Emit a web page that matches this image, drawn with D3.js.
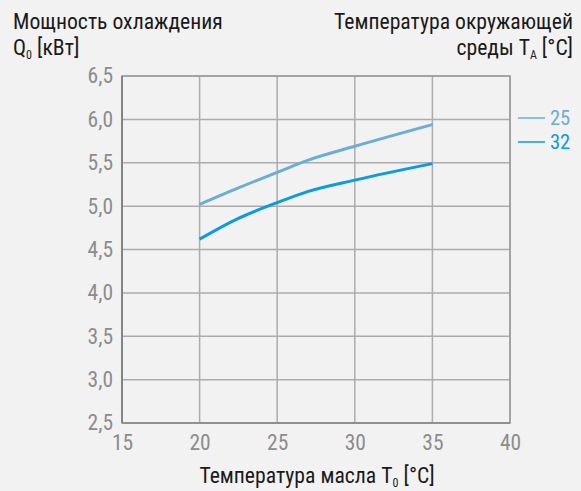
<!DOCTYPE html>
<html><head><meta charset="utf-8">
<script src="https://cdn.jsdelivr.net/npm/d3@7"></script>
<style>
html,body{margin:0;padding:0;background:#f2f2f2;}
svg{display:block;}
text{font-family:"Roboto Condensed","Liberation Sans Narrow","DejaVu Sans Condensed",sans-serif;}
</style></head>
<body>
<svg id="chart" width="581" height="491"></svg>
<script>
const seriesNames = ["25", "32"];
const seriesColors = ["#6aaed3", "#0a9be0"];
const temps25 = [20, 22.5, 25, 27, 30, 35];
const values25 = [5.02, 5.21, 5.39, 5.53, 5.69, 5.94];
const temps32 = [20, 22.5, 25, 27, 30, 35];
const values32 = [4.62, 4.86, 5.04, 5.17, 5.30, 5.49];
const xTicks = [15, 20, 25, 30, 35, 40];
const yTicks = [2.5, 3.0, 3.5, 4.0, 4.5, 5.0, 5.5, 6.0, 6.5];

const FONT = '"Roboto Condensed","Liberation Sans Narrow","DejaVu Sans Condensed",sans-serif';
const svg = d3.select("#chart");
const x = d3.scaleLinear().domain([15, 40]).range([122, 510]);
const y = d3.scaleLinear().domain([2.5, 6.5]).range([423, 76]);

// grid
const g = svg.append("g");
g.selectAll(".vg").data(xTicks).enter().append("line")
  .attr("x1", d => x(d)).attr("x2", d => x(d)).attr("y1", y(6.5)).attr("y2", y(2.5))
  .attr("stroke", "#acacac").attr("stroke-width", 1.5);
g.selectAll(".hg").data(yTicks).enter().append("line")
  .attr("x1", x(15)).attr("x2", x(40)).attr("y1", d => y(d)).attr("y2", d => y(d))
  .attr("stroke", "#acacac").attr("stroke-width", 1.5);
g.append("rect").attr("x", x(15)).attr("y", y(6.5)).attr("width", x(40) - x(15)).attr("height", y(2.5) - y(6.5))
  .attr("fill", "none").attr("stroke", "#9a9a9a").attr("stroke-width", 1.5);
g.append("line").attr("x1", x(15)).attr("x2", x(15)).attr("y1", y(6.5)).attr("y2", y(2.5))
  .attr("stroke", "#7a7a7a").attr("stroke-width", 1.5);
g.append("line").attr("x1", x(15)).attr("x2", x(40)).attr("y1", y(2.5)).attr("y2", y(2.5))
  .attr("stroke", "#8a8a8a").attr("stroke-width", 1.5);

// axes labels via d3 axes
const fmt = d => d3.format(".1f")(d).replace(".", ",");
const yAxis = svg.append("g").attr("transform", `translate(${x(15)},0)`)
  .call(d3.axisLeft(y).tickValues(yTicks).tickFormat(fmt).tickSize(0).tickPadding(9));
yAxis.select(".domain").remove();
yAxis.selectAll("text").attr("font-size", 21.5).attr("fill", "#8c8c8c").attr("font-family", FONT);
const xAxis = svg.append("g").attr("transform", `translate(0,${y(2.5)})`)
  .call(d3.axisBottom(x).tickValues(xTicks).tickFormat(d3.format("d")).tickSize(0).tickPadding(12));
xAxis.select(".domain").remove();
xAxis.selectAll("text").attr("font-size", 21.5).attr("fill", "#8c8c8c").attr("font-family", FONT);

// lines
const line = d3.line().x(d => x(d[0])).y(d => y(d[1])).curve(d3.curveMonotoneX);
const data = [d3.zip(temps25, values25), d3.zip(temps32, values32)];
svg.selectAll(".series").data(data).enter().append("path")
  .attr("d", line).attr("fill", "none")
  .attr("stroke", (d, i) => seriesColors[i]).attr("stroke-width", 3);

// legend
seriesNames.forEach((n, i) => {
  const ly = 118 + i * 24;
  svg.append("line").attr("x1", 518).attr("x2", 545).attr("y1", ly).attr("y2", ly)
    .attr("stroke", seriesColors[i]).attr("stroke-width", 1.5);
  svg.append("text").attr("x", 550).attr("y", ly + 7).attr("font-size", 20.5)
    .attr("fill", seriesColors[i]).text(n);
});

// titles
const TS = 21.7;
const tl = svg.append("text").attr("x", 13).attr("y", 29).attr("font-size", TS).attr("fill", "#1a1a1a");
tl.text("Мощность охлаждения");
const tl2 = svg.append("text").attr("x", 13).attr("y", 55).attr("font-size", TS).attr("fill", "#1a1a1a");
tl2.append("tspan").text("Q");
tl2.append("tspan").attr("font-size", 12).attr("dy", 4).text("0");
tl2.append("tspan").attr("dy", -4).text(" [кВт]");

const tr = svg.append("text").attr("x", 573).attr("y", 29).attr("font-size", TS).attr("fill", "#1a1a1a").attr("text-anchor", "end");
tr.text("Температура окружающей");
const tr2 = svg.append("text").attr("x", 573).attr("y", 55).attr("font-size", TS).attr("fill", "#1a1a1a").attr("text-anchor", "end");
tr2.append("tspan").text("среды T");
tr2.append("tspan").attr("font-size", 12).attr("dy", 4).text("A");
tr2.append("tspan").attr("dy", -4).text(" [°C]");

const xt = svg.append("text").attr("x", 317).attr("y", 483).attr("font-size", TS).attr("fill", "#1a1a1a").attr("text-anchor", "middle");
xt.append("tspan").text("Температура масла T");
xt.append("tspan").attr("font-size", 12).attr("dy", 4).text("0");
xt.append("tspan").attr("dy", -4).text(" [°C]");
</script>
</body></html>
